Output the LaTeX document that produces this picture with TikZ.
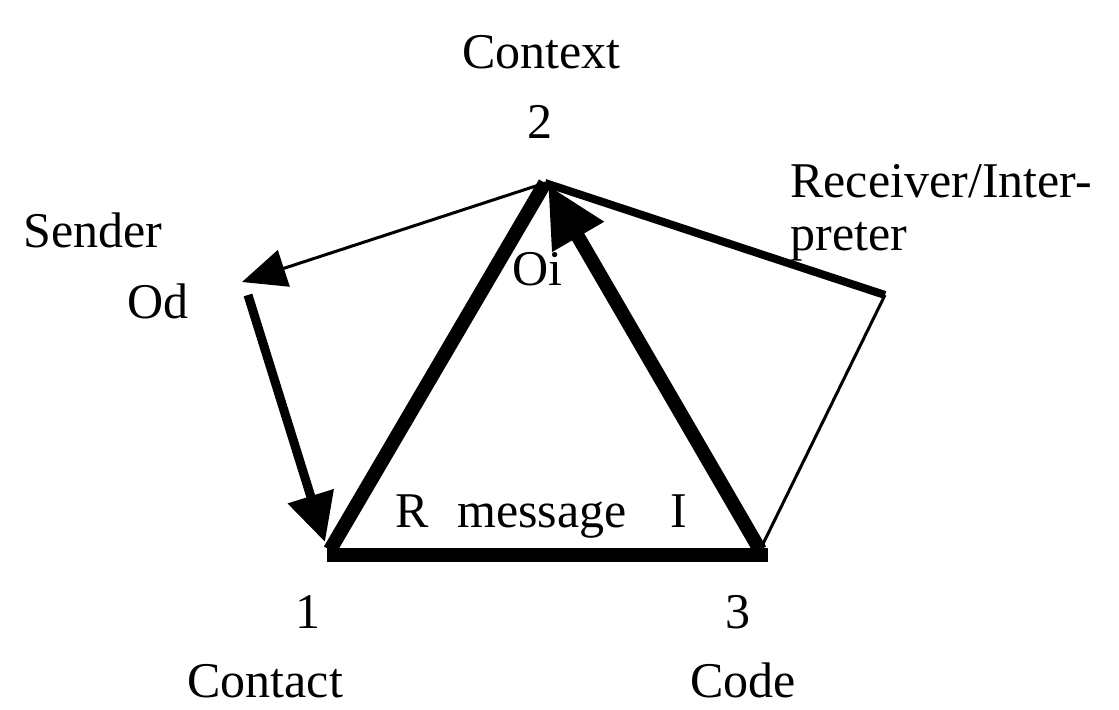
\documentclass[tikz,border=0pt]{standalone}
\usepackage{fontspec}
\setmainfont{Liberation Serif}
\usetikzlibrary{arrows.meta}

\begin{document}
\begin{tikzpicture}[x=0.5pt, y=-0.5pt,
			dunn/.style={line width=1.5pt},
			mittel/.style={line width=4pt},
			dick/.style={line width=7pt},
			spitzeA/.style={-{Triangle[length=22pt,width=19pt]}},
			spitzeB/.style={-{Triangle[length=24pt,width=23pt]}},
			spitzeC/.style={-{Triangle[length=30pt,width=28pt]}},
			txt/.style={anchor=base west, inner sep=0pt},
			font=\fontsize{25}{30}\selectfont]
			%Bildbereich
			\useasboundingbox (0,0) rectangle (1119,709);
			%Eckpunkte
			\coordinate (v1) at (330,550);
			\coordinate (v2) at (545,183);
			\coordinate (v3) at (760,550);
			\coordinate (od) at (248,295);
			\coordinate (odtip) at (242,282);
			\coordinate (rc) at (885,295);
			\coordinate (h1) at (327,555);
			\coordinate (h3) at (768,555);
			%Verbindungen zeichnen
			\draw[dunn,spitzeA] (v2) -- (odtip);
			\draw[line width=4.5pt,spitzeB] (od) -- (325,542) coordinate (v1tip);
			\draw[dick] (v1) -- (v2);
			\draw[dick] (h1) -- (h3);
			\draw[dick,spitzeC] (v3) -- (548,185) coordinate (v2tip);
			\draw[mittel] (v2) -- (rc);
			\draw[dunn] (rc) -- (v3);
			%Beschriftung
			\node[txt] (context) at (462,68) {Context};
			\node[txt] (n2) at (527,138) {2};
			\node[txt] (receiver) at (790,197) {Receiver/Inter-};
			\node[txt] (preter) at (790,250) {preter};
			\node[txt] (sender) at (23,247) {Sender};
			\node[txt] (odl) at (127,318) {Od};
			\node[txt] (oi) at (512,285) {Oi};
			\node[txt] (r) at (395,527) {R};
			\node[txt] (message) at (457,527) {message};
			\node[txt] (i) at (670,527) {I};
			\node[txt] (n1) at (295,628) {1};
			\node[txt] (n3) at (725,628) {3};
			\node[txt] (contact) at (187,697) {Contact};
			\node[txt] (code) at (690,697) {Code};
		\end{tikzpicture}
\end{document}
